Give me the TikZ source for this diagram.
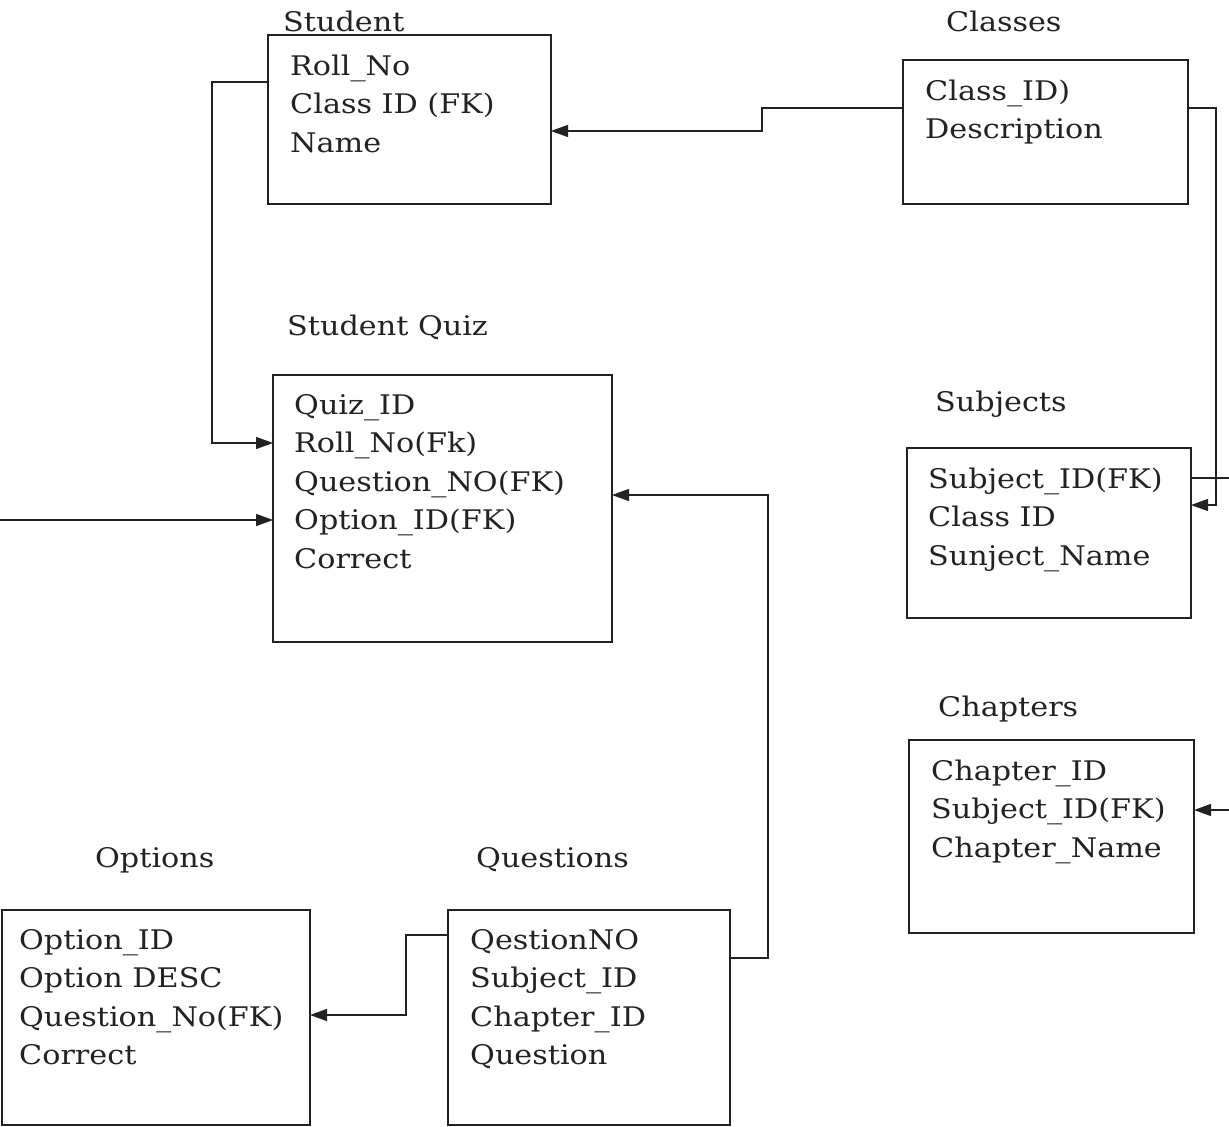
\documentclass[tikz,border=0pt]{standalone}
\usepackage{fontspec}
\setmainfont[FakeStretch=1.12]{DejaVu Serif}
\usetikzlibrary{arrows.meta}
\definecolor{ink}{HTML}{222222}
\tikzset{
  box/.style={draw=ink, line width=1.6pt},
  fields/.style={anchor=base west, align=left, inner sep=0pt, text=ink,
    font=\fontsize{27}{38.5}\selectfont},
  title/.style={anchor=base west, inner sep=0pt, text=ink,
    font=\fontsize{27}{38.5}\selectfont},
  link/.style={draw=ink, line width=1.3pt, -{Triangle[length=17pt,width=12pt]}},
  plain/.style={draw=ink, line width=1.3pt}
}
\begin{document}
\begin{tikzpicture}[x=1pt,y=-1pt]
\useasboundingbox (0,0) rectangle (1229,1127);
\clip (0,0) rectangle (1229,1127);
\fill[white] (0,0) rectangle (1229,1127);

% boxes
\path[box] (268,35) rectangle (551,204);
\coordinate (stW) at (268,82); \coordinate (stE) at (551,131);
\path[box] (903,60) rectangle (1188,204);
\coordinate (clW) at (903,108); \coordinate (clE) at (1188,108);
\path[box] (273,375) rectangle (612,642);
\coordinate (sqW1) at (273,443); \coordinate (sqW2) at (273,520); \coordinate (sqE) at (612,495);
\path[box] (907,448) rectangle (1191,618);
\coordinate (sbE1) at (1191,478); \coordinate (sbE2) at (1191,505);
\path[box] (909,740) rectangle (1194,933);
\coordinate (chE) at (1194,810);
\path[box] (2,910) rectangle (310,1125);
\coordinate (opE) at (310,1015);
\path[box] (448,910) rectangle (730,1125);
\coordinate (quW) at (448,935); \coordinate (quE) at (730,958);

% titles
\node[title] (tStudent) at (283,31) {Student};
\node[title] (tClasses) at (946,31) {Classes};
\node[title] (tQuiz) at (287,335) {Student Quiz};
\node[title] (tSubjects) at (935,411) {Subjects};
\node[title] (tChapters) at (938,716) {Chapters};
\node[title] (tOptions) at (95,867) {Options};
\node[title] (tQuestions) at (476,867) {Questions};

% fields (anchor = baseline of last line)
\node[fields] (fStudent) at (290,152) {Roll\_No\\Class ID (FK)\\Name};
\node[fields] (fClasses) at (925,138.5) {Class\_ID)\\Description};
\node[fields] (fQuiz) at (294,568) {Quiz\_ID\\Roll\_No(Fk)\\Question\_NO(FK)\\Option\_ID(FK)\\Correct};
\node[fields] (fSubjects) at (928,565) {Subject\_ID(FK)\\Class ID\\Sunject\_Name};
\node[fields] (fChapters) at (931,857) {Chapter\_ID\\Subject\_ID(FK)\\Chapter\_Name};
\node[fields] (fOptions) at (19,1064.5) {Option\_ID\\Option DESC\\Question\_No(FK)\\Correct};
\node[fields] (fQuestions) at (470,1064.5) {QestionNO\\Subject\_ID\\Chapter\_ID\\Question};

% free ends
\coordinate (leftEnd) at (0,520);
\coordinate (rightEnd1) at (1229,478);
\coordinate (rightEnd2) at (1229,810);

% connectors
\draw[link] (clW) -- (762,108) -- (762,131) -- (stE);
\draw[link] (stW) -- (212,82) -- (212,443) -- (sqW1);
\draw[link] (leftEnd) -- (sqW2);
\draw[link] (quE) -- (768,958) -- (768,495) -- (sqE);
\draw[link] (quW) -- (406,935) -- (406,1015) -- (opE);
\draw[link] (clE) -- (1216,108) -- (1216,505) -- (sbE2);
\draw[plain] (sbE1) -- (rightEnd1);
\draw[link] (rightEnd2) -- (chE);
\end{tikzpicture}
\end{document}
